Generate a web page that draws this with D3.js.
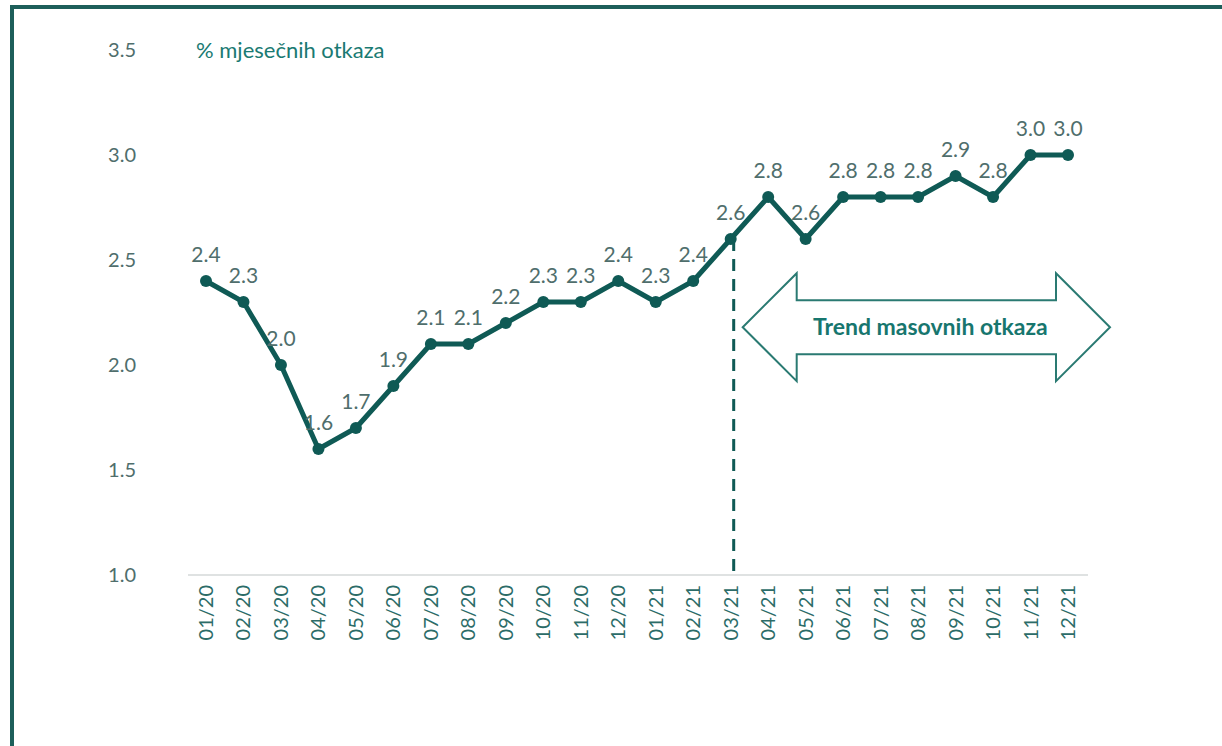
<!DOCTYPE html>
<html lang="hr">
<head>
<meta charset="UTF-8">
<title>% mjesečnih otkaza</title>
<script src="https://d3js.org/d3.v7.min.js"></script>
<style>
  body { margin: 0; background: #fff; }
  svg { display: block; font-family: Lato, 'Open Sans', sans-serif; }
</style>
</head>
<body>
<svg id="chart" width="1222" height="746"></svg>
<script>
var months = ["01/20","02/20","03/20","04/20","05/20","06/20","07/20","08/20","09/20","10/20","11/20","12/20",
              "01/21","02/21","03/21","04/21","05/21","06/21","07/21","08/21","09/21","10/21","11/21","12/21"];
var quitRate = [2.4,2.3,2.0,1.6,1.7,1.9,2.1,2.1,2.2,2.3,2.3,2.4,
                2.3,2.4,2.6,2.8,2.6,2.8,2.8,2.8,2.9,2.8,3.0,3.0];
var yTicks = [1.0, 1.5, 2.0, 2.5, 3.0, 3.5];
var trendStart = "03/21";
var trendLabel = "Trend masovnih otkaza";
var unitLabel = "% mjesečnih otkaza";

var svg = d3.select("#chart");
var dark = "#0f5a55", teal = "#2a7a72", grey = "#4f6e6c";

// frame: top and left edges only
svg.append("line").attr("x1", 10).attr("x2", 1222).attr("y1", 7).attr("y2", 7)
  .attr("stroke", "#1d5f5a").attr("stroke-width", 4);
svg.append("line").attr("x1", 12).attr("x2", 12).attr("y1", 5).attr("y2", 746)
  .attr("stroke", "#1d5f5a").attr("stroke-width", 4);

var x = d3.scalePoint().domain(months).range([206, 1068]);
var y = d3.scaleLinear().domain([1.0, 3.5]).range([575, 50]);

// baseline
svg.append("line").attr("x1", 188).attr("x2", 1088)
  .attr("y1", y(1.0)).attr("y2", y(1.0))
  .attr("stroke", "#d4d8d8").attr("stroke-width", 1.5);

// y tick labels
svg.selectAll("text.ytick").data(yTicks).enter().append("text")
  .attr("class", "ytick")
  .attr("x", 136).attr("y", function(d) { return y(d); })
  .attr("dy", "0.35em")
  .attr("text-anchor", "end")
  .attr("font-size", 20).attr("fill", grey)
  .text(function(d) { return d.toFixed(1); });

svg.append("text").attr("x", 196).attr("y", y(3.5)).attr("dy", "0.35em")
  .attr("font-size", 22).attr("fill", "#1a7a72").text(unitLabel);

// x tick labels, rotated
svg.selectAll("text.xtick").data(months).enter().append("text")
  .attr("class", "xtick")
  .attr("transform", function(d) { return "translate(" + (x(d) + 7) + "," + (y(1.0) + 10) + ") rotate(-90)"; })
  .attr("text-anchor", "end")
  .attr("font-size", 20).attr("fill", "#2c6c68")
  .text(function(d) { return d; });

// dashed marker at trend start
var iStart = months.indexOf(trendStart);
svg.append("line")
  .attr("x1", x(trendStart) + 3).attr("x2", x(trendStart) + 3)
  .attr("y1", y(quitRate[iStart])).attr("y2", y(1.0))
  .attr("stroke", dark).attr("stroke-width", 3)
  .attr("stroke-dasharray", "12,8");

// double arrow
var ax0 = x(trendStart) + 12, ax1 = x(months[months.length - 1]) + 42;
var ym = y(2.18), shaft = 27, head = 54, headLen = 54;
var arrowPts = [
  [ax0, ym], [ax0 + headLen, ym - head], [ax0 + headLen, ym - shaft],
  [ax1 - headLen, ym - shaft], [ax1 - headLen, ym - head], [ax1, ym],
  [ax1 - headLen, ym + head], [ax1 - headLen, ym + shaft],
  [ax0 + headLen, ym + shaft], [ax0 + headLen, ym + head]
];
svg.append("polygon")
  .attr("points", arrowPts.map(function(p) { return p.join(","); }).join(" "))
  .attr("fill", "#fff").attr("stroke", teal).attr("stroke-width", 2);
svg.append("text").attr("x", (ax0 + ax1) / 2 + 4).attr("y", ym).attr("dy", "0.35em")
  .attr("text-anchor", "middle").attr("font-size", 23).attr("font-weight", "bold")
  .attr("fill", "#17766e").text(trendLabel);

// series line
var line = d3.line()
  .x(function(d, i) { return x(months[i]); })
  .y(function(d) { return y(d); });
svg.append("path").datum(quitRate).attr("d", line)
  .attr("fill", "none").attr("stroke", dark).attr("stroke-width", 5)
  .attr("stroke-linejoin", "round");

svg.selectAll("circle.pt").data(quitRate).enter().append("circle")
  .attr("class", "pt")
  .attr("cx", function(d, i) { return x(months[i]); })
  .attr("cy", function(d) { return y(d); })
  .attr("r", 6).attr("fill", dark);

// value labels
svg.selectAll("text.val").data(quitRate).enter().append("text")
  .attr("class", "val")
  .attr("x", function(d, i) { return x(months[i]); })
  .attr("y", function(d) { return y(d) - 19; })
  .attr("text-anchor", "middle")
  .attr("font-size", 21).attr("fill", grey)
  .text(function(d) { return d.toFixed(1); });
</script>
</body>
</html>
